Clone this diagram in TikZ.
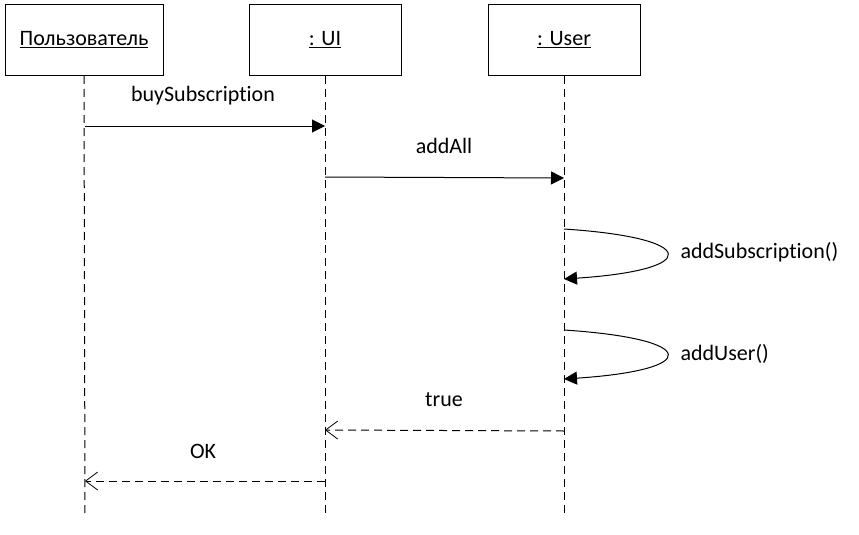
\documentclass[tikz,border=0pt]{standalone}
\usepackage{fontspec}
\setmainfont[Ligatures=NoCommon]{Carlito}
\usetikzlibrary{arrows.meta}
\usetikzlibrary{positioning}

\begin{document}
\begin{tikzpicture}[x=1pt, y=-1pt, line width=1pt,
  font=\fontsize{22}{26}\selectfont,
  obj/.style={draw, minimum width=158pt, minimum height=71pt, inner sep=0pt},
  lifeline/.style={dash pattern=on 8pt off 5pt},
  sync/.style={-{Triangle[length=13pt, width=13pt]}},
  reply/.style={dash pattern=on 8pt off 5pt, -{Straight Barb[length=12pt, width=18pt, line width=0.8pt]}},
  msg/.style={inner sep=0pt}]
\useasboundingbox (0,0) rectangle (859,535);
% objects
\node[obj] (user) at (84,40) {\underline{Пользователь}};
\node[obj, minimum width=152pt] (ui) at (325,40) {\underline{: UI}};
\node[obj, minimum width=152pt] (acc) at (564,40) {\underline{: User}};
% lifelines
\coordinate (userEnd) at (85,517);
\coordinate (uiEnd) at (325,517);
\coordinate (accEnd) at (564,517);
\draw[lifeline] (user.south) -- (userEnd);
\draw[lifeline] (ui.south) -- (uiEnd);
\draw[lifeline] (acc.south) -- (accEnd);
% points on the lifelines
\coordinate (u1) at (85,126);
\coordinate (i1) at (325,126);
\coordinate (i2) at (325,177);
\coordinate (a2) at (564,178);
\coordinate (a3) at (564,229);
\coordinate (a4) at (564,279);
\coordinate (a5) at (564,330);
\coordinate (a6) at (564,379);
\coordinate (a7) at (564,431);
\coordinate (i7) at (325,430);
\coordinate (i8) at (325,481);
\coordinate (u8) at (85,481);
% messages
\draw[sync] (u1) -- (i1);
\node[msg] (buy) at (203,96) {buySubscription};
\draw[sync] (i2) -- (a2);
\node[msg] (add) at (444,146) {addAll};
\draw[sync] (a3) .. controls (701,238) and (701,270) .. (a4);
\node[msg, anchor=west] (subs) at (680,252) {addSubscription()};
\draw[sync] (a5) .. controls (701,339) and (701,370) .. (a6);
\node[msg, anchor=west] (addu) at (680,354) {addUser()};
\draw[reply] (a7) -- (i7);
\node[msg] (ret) at (444,400) {true};
\draw[reply] (i8) -- (u8);
\node[msg] (ok) at (203,451) {OK};
\end{tikzpicture}
\end{document}
